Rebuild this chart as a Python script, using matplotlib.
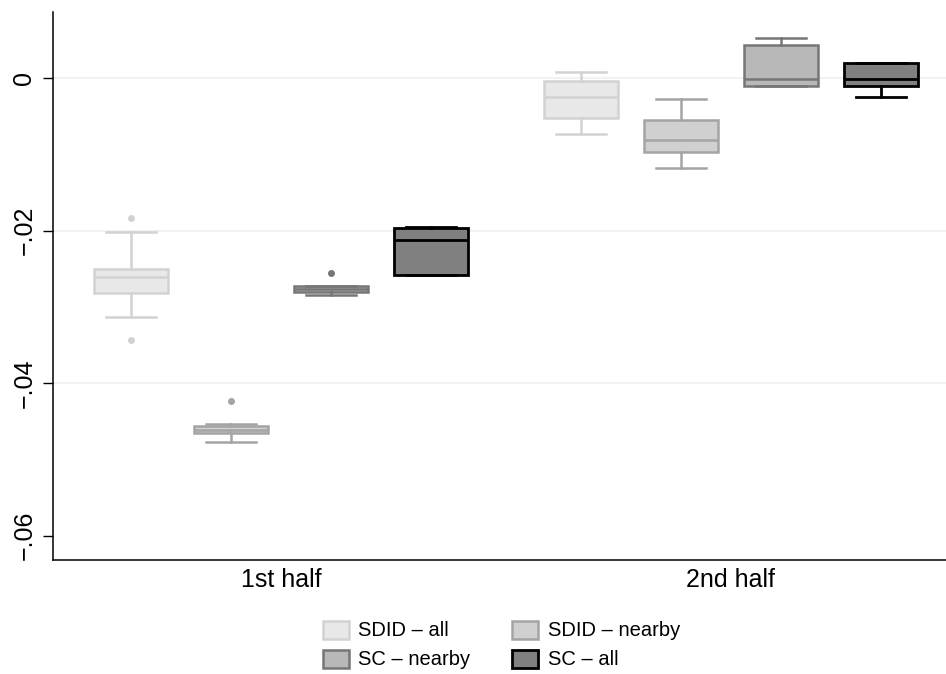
import matplotlib
matplotlib.use("Agg")
import matplotlib.pyplot as plt
from matplotlib.patches import Patch

plt.rcParams['font.family'] = ['Liberation Sans', 'DejaVu Sans']

groups = ["1st half", "2nd half"]
series = ["SDID \u2013 all", "SDID \u2013 nearby", "SC \u2013 nearby", "SC \u2013 all"]

# box statistics per series: [1st half, 2nd half]
whislo = {
    "SDID \u2013 all":    [-0.0314, -0.00734],
    "SDID \u2013 nearby": [-0.0477, -0.01185],
    "SC \u2013 nearby":   [-0.0284, -0.00105],
    "SC \u2013 all":      [-0.0258, -0.00253],
}
q1 = {
    "SDID \u2013 all":    [-0.0282, -0.0053],
    "SDID \u2013 nearby": [-0.0466, -0.0097],
    "SC \u2013 nearby":   [-0.0281, -0.00105],
    "SC \u2013 all":      [-0.0258, -0.00101],
}
med = {
    "SDID \u2013 all":    [-0.0261, -0.00253],
    "SDID \u2013 nearby": [-0.0461, -0.0081],
    "SC \u2013 nearby":   [-0.0277, -0.00017],
    "SC \u2013 all":      [-0.0213, -0.00017],
}
q3 = {
    "SDID \u2013 all":    [-0.0251, -0.0004],
    "SDID \u2013 nearby": [-0.0456, -0.0055],
    "SC \u2013 nearby":   [-0.0273, 0.00433],
    "SC \u2013 all":      [-0.0197, 0.00193],
}
whishi = {
    "SDID \u2013 all":    [-0.0202, 0.00075],
    "SDID \u2013 nearby": [-0.0454, -0.0027],
    "SC \u2013 nearby":   [-0.0273, 0.00525],
    "SC \u2013 all":      [-0.0195, 0.00193],
}
fliers = {
    "SDID \u2013 all":    [[-0.0183, -0.0343], []],
    "SDID \u2013 nearby": [[-0.0424], []],
    "SC \u2013 nearby":   [[-0.0255], []],
    "SC \u2013 all":      [[], []],
}

fills = ["#e8e8e8", "#d0d0d0", "#b8b8b8", "#808080"]
edges = ["#d2d2d2", "#a4a4a4", "#767676", "#000000"]
lws = [1.8, 1.8, 1.8, 2.0]

yticks = [0.0, -0.02, -0.04, -0.06]
ytick_labels = ["0", "\u2212.02", "\u2212.04", "\u2212.06"]

fig = plt.figure(figsize=(9.46, 6.74), dpi=100)
ax = fig.add_axes([53/946, 1 - 560/674, 1 - 53/946 + 0.002, (560 - 12)/674])

group_starts = [1.0, 5.5]
for si, s in enumerate(series):
    stats = []
    positions = []
    for gi in range(len(groups)):
        stats.append(dict(med=med[s][gi], q1=q1[s][gi], q3=q3[s][gi],
                          whislo=whislo[s][gi], whishi=whishi[s][gi],
                          fliers=fliers[s][gi]))
        positions.append(group_starts[gi] + si)
    ax.bxp(stats, positions=positions, widths=0.74, patch_artist=True,
           boxprops=dict(facecolor=fills[si], edgecolor=edges[si], linewidth=lws[si]),
           medianprops=dict(color=edges[si], linewidth=lws[si]),
           whiskerprops=dict(color=edges[si], linewidth=lws[si]),
           capprops=dict(color=edges[si], linewidth=lws[si]),
           capwidths=0.5,
           flierprops=dict(marker='o', markersize=4, markerfacecolor=edges[si],
                           markeredgecolor=edges[si]),
           zorder=3)

for yt in yticks[:-1]:
    ax.axhline(yt, color="#eaf0f0", linewidth=1.2, zorder=0)

ax.set_xlim(0.22, 9.17)
ax.set_ylim(-0.0632, 0.00866)
ax.set_yticks(yticks)
ax.set_yticklabels(ytick_labels, rotation=90, va='center', fontsize=18)
ax.set_xticks([group_starts[0] + 1.5, group_starts[1] + 1.5])
ax.set_xticklabels(groups, fontsize=18)
ax.tick_params(axis='x', length=0, pad=6)
ax.tick_params(axis='y', length=7, width=1, pad=5)
ax.spines['top'].set_visible(False)
ax.spines['right'].set_visible(False)
ax.spines['left'].set_linewidth(1.1)
ax.spines['bottom'].set_linewidth(1.1)

handles = [Patch(facecolor=fills[i], edgecolor=edges[i], linewidth=lws[i], label=series[i])
           for i in range(4)]
order = [0, 2, 1, 3]
fig.legend([handles[i] for i in order], [series[i] for i in order],
           loc='center', bbox_to_anchor=(0.5298, 0.043), ncol=2, frameon=False,
           fontsize=14.5, handlelength=1.3, handleheight=1.0, columnspacing=2.1,
           handletextpad=0.45, labelspacing=0.45, borderpad=0.2)

fig.savefig("out.png", dpi=100)
